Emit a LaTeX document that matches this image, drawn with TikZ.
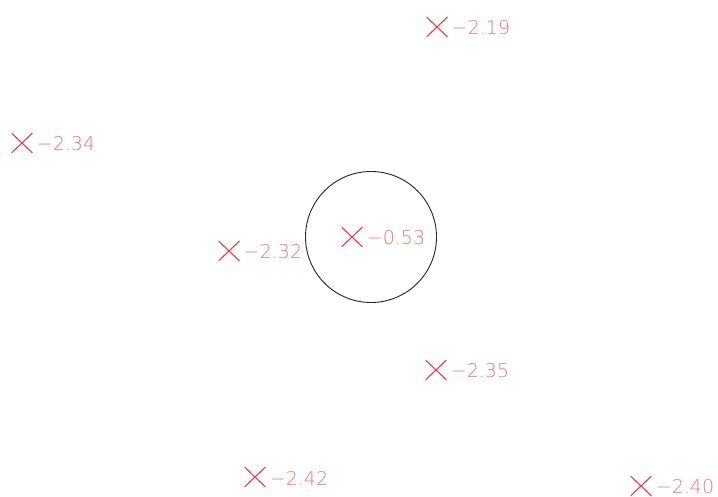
\documentclass[tikz,border=0pt]{standalone}
\usepackage{fontspec}
\newfontfamily\lblfont{DejaVu Sans ExtraLight}
\definecolor{xred}{RGB}{232,58,72}
\definecolor{tred}{RGB}{236,118,128}
\begin{document}
\begin{tikzpicture}[x=1pt,y=1pt,
  xmark/.style={minimum width=21pt,minimum height=20pt,inner sep=0pt,
    path picture={\draw[xred,line width=1.1pt]
      (path picture bounding box.north west) -- (path picture bounding box.south east)
      (path picture bounding box.south west) -- (path picture bounding box.north east);}},
  lbl/.style={anchor=west,inner sep=0pt,text=tred,font=\lblfont\fontsize{19}{19}\selectfont}]
\useasboundingbox[fill=white] (0,0) rectangle (718,-497);
\node[draw=black!85,line width=0.9pt,circle,minimum size=131pt,inner sep=0pt] (c) at (371,-237) {};
\node[xmark] (m1) at (437,-27) {};
\node[lbl] (t1) at ([xshift=4pt,yshift=-1pt]m1.east) {−2.19};
\node[xmark] (m2) at (22,-143) {};
\node[lbl] (t2) at ([xshift=4pt,yshift=-1pt]m2.east) {−2.34};
\node[xmark] (m3) at (352,-237) {};
\node[lbl] (t3) at ([xshift=4pt,yshift=-1pt]m3.east) {−0.53};
\node[xmark] (m4) at (229,-251) {};
\node[lbl] (t4) at ([xshift=4pt,yshift=-1pt]m4.east) {−2.32};
\node[xmark] (m5) at (436,-370) {};
\node[lbl] (t5) at ([xshift=4pt,yshift=-1pt]m5.east) {−2.35};
\node[xmark] (m6) at (255,-477) {};
\node[lbl] (t6) at ([xshift=4pt,yshift=-1pt]m6.east) {−2.42};
\node[xmark] (m7) at (641,-486) {};
\node[lbl] (t7) at ([xshift=4pt,yshift=-1pt]m7.east) {−2.40};
\end{tikzpicture}
\end{document}
